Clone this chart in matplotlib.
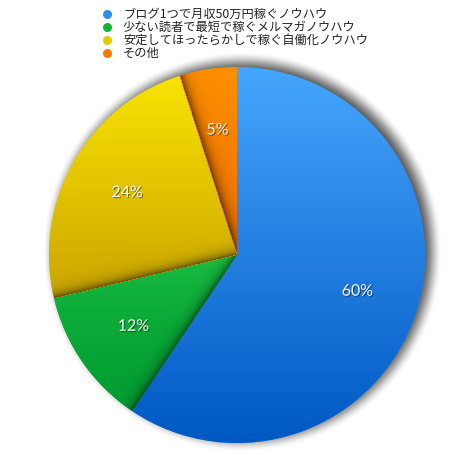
import numpy as np
import matplotlib
matplotlib.use('Agg')
import matplotlib.pyplot as plt
import matplotlib.patheffects as pe
from matplotlib.colors import to_rgb

labels = ['ブログ1つで月収50万円稼ぐノウハウ',
          '少ない読者で最短で稼ぐメルマガノウハウ',
          '安定してほったらかしで稼ぐ自働化ノウハウ',
          'その他']
values = [60, 12, 24, 5]
top_colors = ['#46a6fd', '#20c645', '#f9e300', '#ff8f00']
bottom_colors = ['#0058c3', '#009c31', '#cba500', '#ef6f00']
legend_colors = ['#2a8ff0', '#10b536', '#e8c800', '#f57c00']

plt.rcParams['font.family'] = ['Noto Sans CJK JP', 'DejaVu Sans']

fig = plt.figure(figsize=(4.61, 4.54), dpi=100)
ax = fig.add_axes([0, 0, 1, 1])

# pixel coordinates, y up
cx, cy, R = 237, 199, 188

total = sum(values)
wedges, texts, autotexts = ax.pie(
    values, startangle=90, counterclock=False, center=(cx, cy), radius=R,
    colors=legend_colors, wedgeprops=dict(linewidth=0, zorder=1),
    autopct=lambda p: '{:.0f}%'.format(p * total / 100), pctdistance=0.67,
    textprops=dict(color='white', fontsize=11.5, family=['Lato', 'DejaVu Sans'], zorder=5))

ax.set_aspect('equal')
ax.axis('off')

# soft drop shadow behind the pie
pad = 30
xs = np.arange(cx - R - pad, cx + R + pad + 1)
ys = np.arange(cy - R - pad, cy + R + pad + 1)
X, Y = np.meshgrid(xs, ys)
d = np.hypot(X - (cx + 5), Y - (cy + 3))
t = np.clip((d - (R - 8)) / 20, 0, 1)
s = t * t * (3 - 2 * t)
shadow = np.zeros(X.shape + (4,))
shadow[..., :3] = 0.2
shadow[..., 3] = 0.8 * (1 - s)
ax.imshow(shadow, origin='lower', zorder=0, interpolation='bilinear',
          extent=(xs[0] - 0.5, xs[-1] + 0.5, ys[0] - 0.5, ys[-1] + 0.5))

# gradient fill + inner shadow along the leading edge of each slice
ang = np.degrees(np.arctan2(Y - cy, X - cx))
rr = np.hypot(X - cx, Y - cy)
for i, w in enumerate(wedges):
    ext = w.get_path().transformed(w.get_patch_transform()).get_extents()
    f = np.clip((ext.y1 - Y) / max(ext.height, 1), 0, 1)[..., None]
    if i == 1:
        f = np.sqrt(f)
    img = np.array(to_rgb(top_colors[i])) * (1 - f) + np.array(to_rgb(bottom_colors[i])) * f
    if i > 0:
        diff = (w.theta2 - ang) % 360
        dist = np.where(diff < 90, rr * np.sin(np.radians(diff)), 1e3)
        dark = 0.55 * np.exp(-dist / 5)
        img = img * (1 - dark[..., None])
    im = ax.imshow(img, origin='lower', zorder=2, interpolation='bilinear',
                   extent=(xs[0] - 0.5, xs[-1] + 0.5, ys[0] - 0.5, ys[-1] + 0.5))
    im.set_clip_path(w)

for txt in autotexts:
    txt.set_path_effects([pe.SimplePatchShadow(offset=(0.7, -0.7), shadow_rgbFace='black', alpha=0.5),
                          pe.Normal()])

ax.set_xlim(0, 461)
ax.set_ylim(0, 454)

# legend
for i, (lab, col) in enumerate(zip(labels, legend_colors)):
    y = 440 - 13 * i
    ax.scatter(107, y, s=42, color=col, zorder=6, linewidths=0)
    ax.text(123, y, lab, fontsize=8.8, va='center', ha='left', color='#222222', zorder=6)

fig.savefig('out.png', dpi=100)
